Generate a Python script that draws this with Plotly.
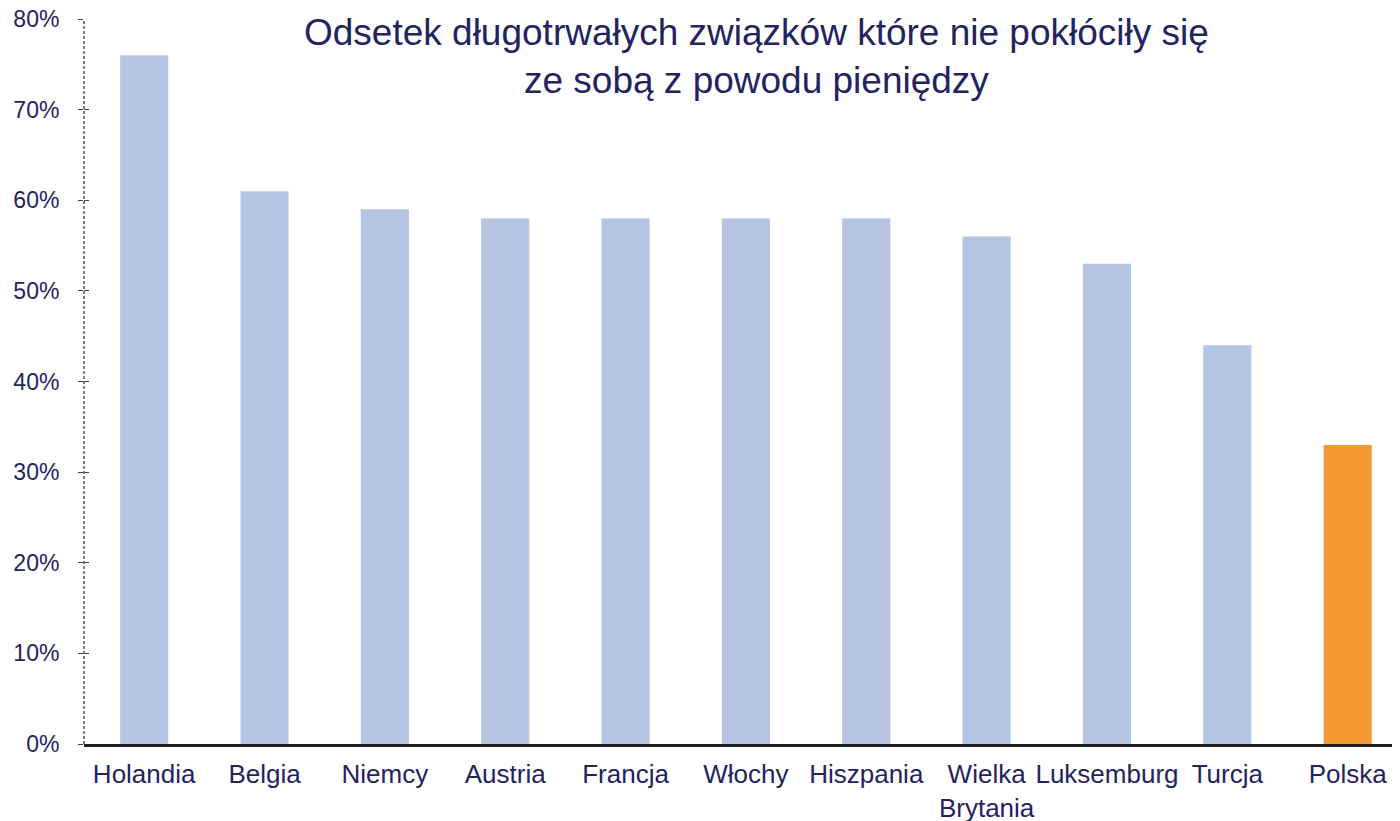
import plotly.graph_objects as go

categories = ["Holandia", "Belgia", "Niemcy", "Austria", "Francja", "Włochy",
              "Hiszpania", "Wielka<br>Brytania", "Luksemburg", "Turcja", "Polska"]
values = [76, 61, 59, 58, 58, 58, 58, 56, 53, 44, 33]
highlight = "Polska"
y_ticks = [0, 10, 20, 30, 40, 50, 60, 70, 80]
y_tick_labels = [f"{v}%" for v in y_ticks]

BLUE = "#B4C4E2"
ORANGE = "#F59A32"
NAVY = "#23235F"
FONT = "Liberation Sans, Arial, sans-serif"

colors = [ORANGE if c == highlight else BLUE for c in categories]

fig = go.Figure()
fig.add_trace(go.Bar(x=categories, y=values, marker=dict(color=colors, line=dict(width=0)),
                     width=0.4, hoverinfo="x+y"))
fig.add_trace(go.Scatter(x=[categories[0]], y=[None], yaxis="y2", showlegend=False,
                         hoverinfo="skip"))

fig.update_layout(
    width=1392, height=813,
    margin=dict(l=76, r=0, t=11, b=77, autoexpand=False),
    plot_bgcolor="white", paper_bgcolor="white",
    showlegend=False,
    font=dict(family=FONT, color=NAVY, size=23),
    xaxis=dict(showgrid=False, showline=True, linecolor="#231F20", linewidth=3,
               range=[-0.5, len(categories) - 0.565],
               ticks="", tickangle=0, tickfont=dict(size=26, color=NAVY, family=FONT),
               ticklabelstandoff=5, zeroline=False, automargin=False),
    yaxis=dict(range=[0, 80], tickmode="array", tickvals=y_ticks, ticktext=y_tick_labels,
               showgrid=False, zeroline=False, showline=False, ticks="outside", ticklen=5,
               tickcolor="#444444", tickwidth=1.2,
               tickfont=dict(size=23, color=NAVY, family=FONT),
               ticklabelstandoff=14, ticklabeloverflow="allow", automargin=False),
    yaxis2=dict(range=[0, 80], tickmode="array", tickvals=y_ticks, overlaying="y",
                side="left", showticklabels=False, ticks="inside", ticklen=5,
                tickcolor="#444444", tickwidth=1.2, showgrid=False, zeroline=False,
                showline=False, automargin=False),
)

fig.add_shape(type="line", xref="paper", yref="y", x0=0, x1=0, y0=0, y1=80,
              line=dict(color="#555555", width=1.5, dash="3px,2px"))

fig.add_annotation(
    text="Odsetek długotrwałych związków które nie pokłóciły się<br>ze sobą z powodu pieniędzy",
    xref="paper", yref="paper", x=0.511, y=1.012, xanchor="center", yanchor="top",
    showarrow=False, font=dict(size=37, color=NAVY, family=FONT), align="center")

fig.write_html("out.html")
